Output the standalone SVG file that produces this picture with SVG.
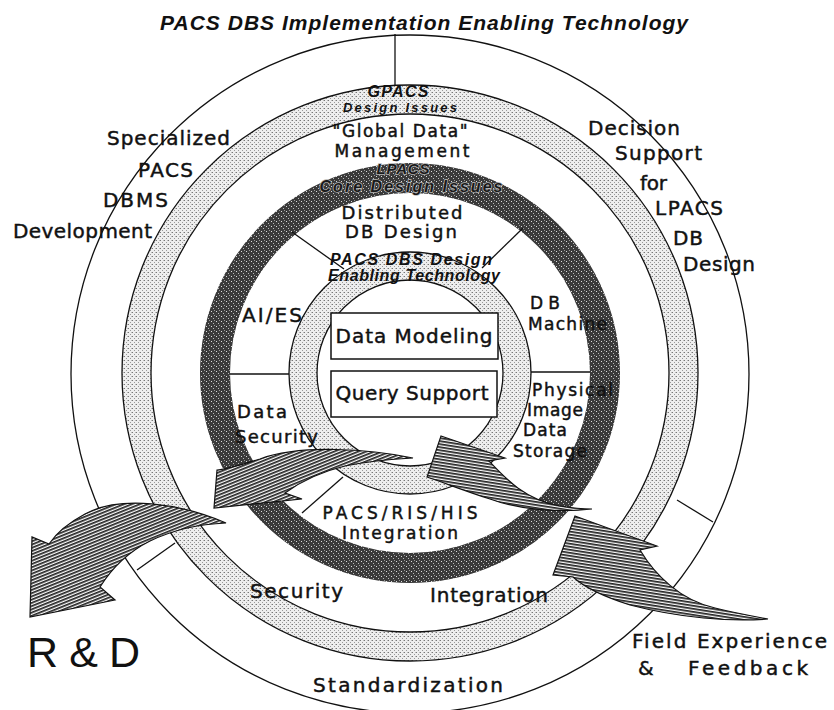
<svg xmlns="http://www.w3.org/2000/svg" width="834" height="710" viewBox="0 0 834 710">
<defs>
<style>
.ln{fill:none;stroke:#111;stroke-width:1.3}
.t{font-family:"DejaVu Sans","Liberation Sans",sans-serif;font-size:20px;fill:#111;stroke:#111;stroke-width:0.45}
.s{font-size:18px}
.xs{font-size:17px}
.it{font-family:"Liberation Sans",Arial,sans-serif;font-style:italic;font-weight:bold;fill:#111}
.dk{font-family:"Liberation Sans",Arial,sans-serif;font-style:italic;font-weight:bold;fill:#1a1a1a;stroke:#b8b8b8;stroke-width:1.4;paint-order:stroke}
.box{fill:#fff;stroke:#111;stroke-width:1.5}
.arr{stroke:#111;stroke-width:1.2;stroke-linejoin:miter}
</style>
<pattern id="stip" width="4" height="4" patternUnits="userSpaceOnUse">
<rect width="4" height="4" fill="#eeeeee"/><rect x="0" y="0" width="1" height="1" fill="#777"/><rect x="2" y="2" width="1" height="1" fill="#999"/><rect x="3" y="0" width="1" height="1" fill="#bbb"/>
</pattern>
<pattern id="dark" width="5" height="5" patternUnits="userSpaceOnUse">
<rect width="5" height="5" fill="#3a3a3a"/><rect x="1" y="1" width="1" height="1" fill="#ddd"/><rect x="3" y="3" width="1" height="1" fill="#bbb"/><rect x="4" y="0" width="1" height="1" fill="#999"/>
</pattern>
<pattern id="hatchA" width="6" height="3" patternUnits="userSpaceOnUse" patternTransform="rotate(-22)">
<rect width="6" height="3" fill="#fff"/><rect width="6" height="1.7" fill="#222"/>
</pattern>
<pattern id="hatchB" width="6" height="3" patternUnits="userSpaceOnUse" patternTransform="rotate(9)">
<rect width="6" height="3" fill="#fff"/><rect width="6" height="1.7" fill="#222"/>
</pattern>
</defs>
<rect width="834" height="710" fill="#fff"/>

<g id="outer-ring">
<circle class="ln" cx="410" cy="374" r="339"/>
</g>
<g id="gpacs-ring">
<circle cx="410" cy="373" r="273.5" fill="none" stroke="url(#stip)" stroke-width="29"/>
<circle class="ln" cx="410" cy="373" r="288"/>
<circle class="ln" cx="410" cy="373" r="259"/>
</g>
<g id="core-ring">
<circle cx="410" cy="373" r="195" fill="none" stroke="url(#dark)" stroke-width="30"/>
</g>
<g id="enabling-ring">
<circle cx="410" cy="373" r="107" fill="none" stroke="url(#stip)" stroke-width="28"/>
<circle class="ln" cx="410" cy="373" r="121"/>
<circle class="ln" cx="410" cy="373" r="93"/>
</g>

<g id="dividers">
<line class="ln" x1="395" y1="34" x2="395" y2="85"/>
<line class="ln" x1="137" y1="570" x2="175" y2="543"/>
<line class="ln" x1="677" y1="500" x2="713" y2="522"/>
<line class="ln" x1="292" y1="232" x2="344" y2="269"/>
<line class="ln" x1="523" y1="228" x2="482" y2="268"/>
<line class="ln" x1="230" y1="374" x2="289" y2="374"/>
<line class="ln" x1="531" y1="372" x2="590" y2="372"/>
<line class="ln" x1="302" y1="513" x2="343" y2="477"/>
</g>

<g id="node-data-modeling">
<rect class="box" x="331" y="313" width="167" height="46"/>
<text class="t" x="414" y="343" text-anchor="middle" textLength="157">Data Modeling</text>
</g>
<g id="node-query-support">
<rect class="box" x="331" y="371" width="166" height="46"/>
<text class="t" x="412" y="400" text-anchor="middle" textLength="153">Query Support</text>
</g>

<g id="title">
<text class="it" x="424" y="30" font-size="21" text-anchor="middle" textLength="528">PACS DBS Implementation Enabling Technology</text>
</g>

<g id="ring-titles">
<text class="it" x="398" y="97" font-size="16" text-anchor="middle" textLength="61">GPACS</text>
<text class="it" x="400" y="112" font-size="13" text-anchor="middle" textLength="114">Design Issues</text>
<text class="dk" x="403" y="174" font-size="15" text-anchor="middle" textLength="53">LPACS</text>
<text class="dk" x="411" y="192" font-size="16" text-anchor="middle" textLength="183">Core Design Issues</text>
<text class="it" x="411" y="265" font-size="16" text-anchor="middle" textLength="162">PACS DBS Design</text>
<text class="it" x="414" y="281" font-size="16" text-anchor="middle" textLength="172">Enabling Technology</text>
</g>

<g id="outer-labels">
<text class="t" x="107" y="145" textLength="123">Specialized</text>
<text class="t" x="138" y="177" textLength="55">PACS</text>
<text class="t" x="103" y="207" textLength="65">DBMS</text>
<text class="t" x="13" y="238" textLength="139">Development</text>
<text class="t" x="588" y="135" textLength="92">Decision</text>
<text class="t" x="615" y="160" textLength="87">Support</text>
<text class="t" x="640" y="190" textLength="27">for</text>
<text class="t" x="655" y="215" textLength="68">LPACS</text>
<text class="t" x="673" y="245" textLength="30">DB</text>
<text class="t" x="683" y="271" textLength="72">Design</text>
<text class="t" x="408" y="692" font-size="22" text-anchor="middle" textLength="190">Standardization</text>
</g>

<g id="middle-labels">
<text class="t xs" x="400" y="137" text-anchor="middle" textLength="135">"Global Data"</text>
<text class="t xs" x="402" y="157" text-anchor="middle" textLength="135">Management</text>
<text class="t" x="250" y="598" textLength="93">Security</text>
<text class="t" x="430" y="602" textLength="118">Integration</text>
</g>

<g id="inner-labels">
<text class="t s" x="402" y="219" text-anchor="middle" textLength="121">Distributed</text>
<text class="t s" x="401" y="238" text-anchor="middle" textLength="112">DB Design</text>
<text class="t" x="242" y="322" textLength="60">AI/ES</text>
<text class="t xs" x="530" y="309" textLength="30">DB</text>
<text class="t xs" x="528" y="330" textLength="79">Machine</text>
<text class="t xs" x="532" y="396" textLength="81">Physical</text>
<text class="t xs" x="527" y="416" textLength="56">Image</text>
<text class="t xs" x="523" y="436" textLength="44">Data</text>
<text class="t xs" x="513" y="457" textLength="74">Storage</text>
<text class="t s" x="237" y="418" textLength="50">Data</text>
<text class="t s" x="235" y="443" textLength="83">Security</text>
<text class="t xs" x="400" y="519" text-anchor="middle" textLength="155">PACS/RIS/HIS</text>
<text class="t xs" x="400" y="539" text-anchor="middle" textLength="116">Integration</text>
</g>

<g id="external-labels">
<text x="27" y="667" font-family="Liberation Sans, Arial, sans-serif" font-size="43" fill="#111" textLength="113">R &amp; D</text>
<text class="t" x="632" y="648" font-size="22" textLength="195">Field Experience</text>
<text class="t" y="675" font-size="22"><tspan x="638">&amp;</tspan><tspan x="688" textLength="120">Feedback</tspan></text>
</g>

<g id="arrows">
<path class="arr" fill="url(#hatchA)" d="M226,523 C180,503 120,495 85,514 C70,522 57,532 49,544 L32,537 L30,617 L115,600 L100,587 C112,568 128,552 150,541 C175,529 200,524 226,523 Z"/>
<path class="arr" fill="url(#hatchA)" d="M413,458 C370,449 300,444 260,459 C240,465 225,470 217,470 L214,508 L302,499 L285,493 C300,482 320,472 345,466 C370,461 395,459 413,458 Z"/>
<path class="arr" fill="url(#hatchB)" d="M441,436 L505,458 L489,461 C505,478 525,500 560,506 C572,508 582,509 592,509 C560,513 520,510 490,499 C465,491 445,483 427,477 Z"/>
<path class="arr" fill="url(#hatchB)" d="M575,516 L657,546 L640,550 C655,575 680,600 715,608 C735,613 752,616 768,619 C730,622 680,618 630,605 C605,597 585,588 573,577 L553,575 Z"/>
</g>
</svg>
